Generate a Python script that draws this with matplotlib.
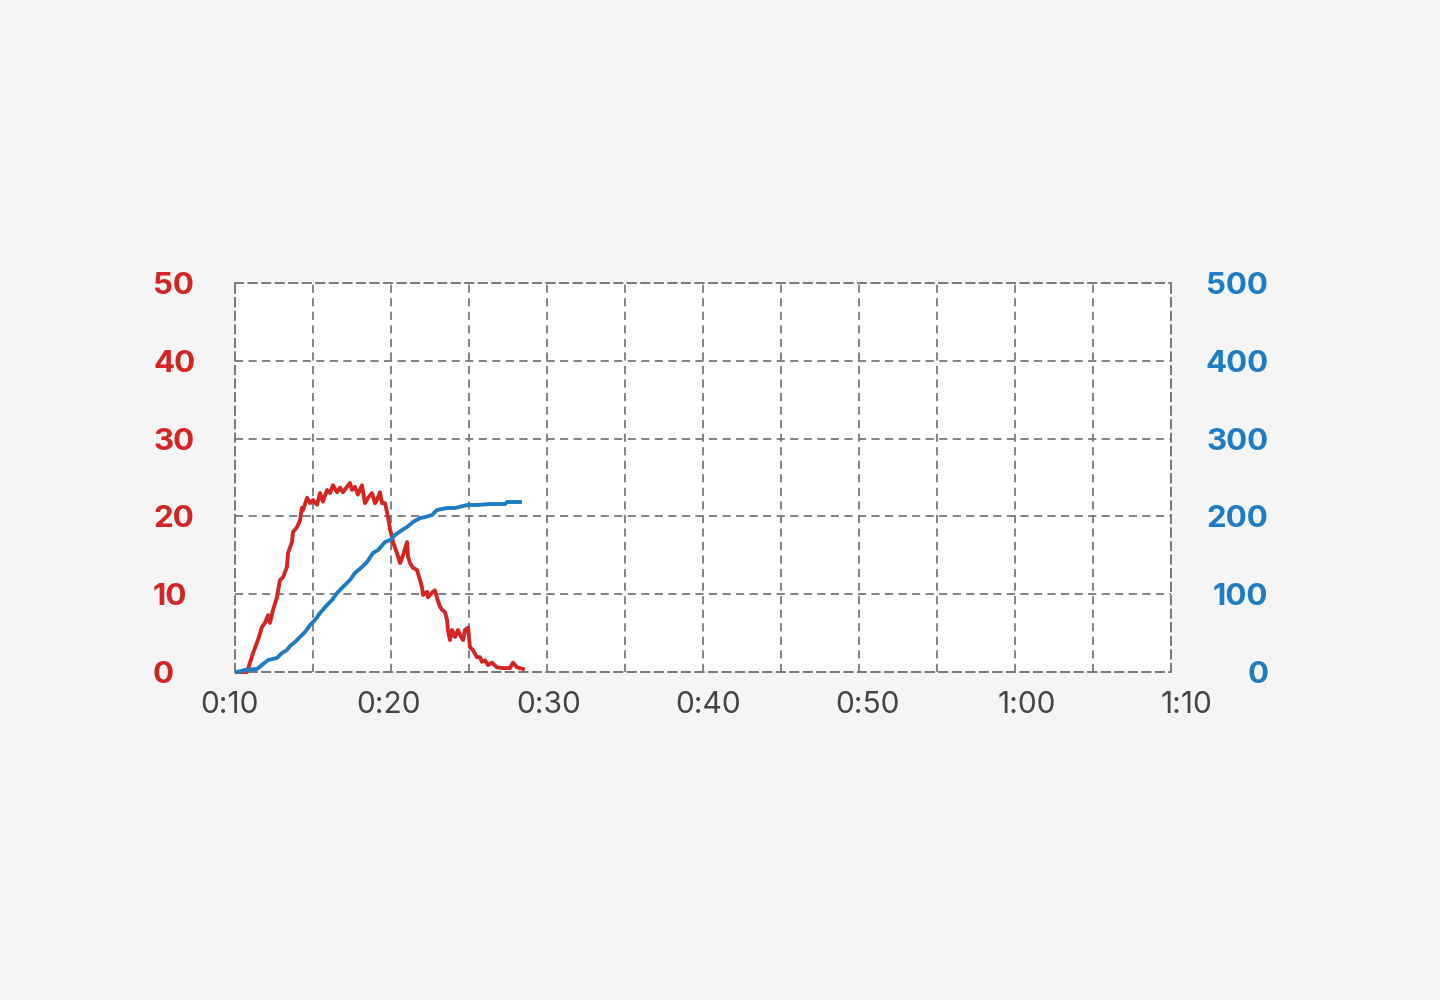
import matplotlib
matplotlib.use("Agg")
import matplotlib.pyplot as plt
from matplotlib import transforms

plt.rcParams['font.family'] = ['Inter', 'DejaVu Sans']

# time in minutes, red series (left axis 0-50)
red_t = [10.13, 10.77, 10.96, 11.15, 11.47, 11.73, 11.92, 12.12, 12.24, 12.44, 12.69, 12.88,
         13.08, 13.33, 13.40, 13.65, 13.72, 13.97, 14.17, 14.29, 14.36, 14.62, 14.81, 15.00,
         15.26, 15.45, 15.64, 15.90, 16.09, 16.28, 16.54, 16.73, 16.92, 17.18, 17.37, 17.50,
         17.69, 17.88, 18.14, 18.33, 18.53, 18.78, 18.97, 19.10, 19.29, 19.42, 19.62, 19.81,
         19.94, 20.06, 20.13, 20.38, 20.58, 20.77, 21.03, 21.09, 21.22, 21.41, 21.67, 21.86,
         21.99, 22.05, 22.31, 22.37, 22.63, 22.82, 22.95, 23.14, 23.27, 23.46, 23.59, 23.65,
         23.78, 23.91, 24.10, 24.29, 24.42, 24.62, 24.74, 24.94, 25.06, 25.26, 25.51, 25.71,
         25.83, 26.03, 26.22, 26.47, 26.79, 27.18, 27.63, 27.82, 28.08, 28.46]
red_v = [0.0, 0.0, 1.2, 2.4, 4.1, 5.8, 6.3, 7.3, 6.3, 8.0, 9.6, 11.8,
         12.2, 13.5, 15.3, 16.7, 18.0, 18.6, 19.5, 21.1, 20.8, 22.4, 21.7, 22.1,
         21.5, 23.0, 21.9, 23.4, 23.0, 24.0, 23.1, 23.7, 23.1, 23.8, 24.3, 23.4,
         23.8, 22.8, 24.0, 21.7, 22.4, 23.0, 21.7, 22.1, 23.1, 21.7, 21.7, 19.9,
         18.3, 17.4, 16.7, 15.3, 14.0, 15.0, 16.7, 14.8, 14.0, 13.4, 13.1, 11.8,
         10.9, 9.9, 10.3, 9.6, 10.2, 10.5, 9.5, 8.4, 8.0, 7.7, 6.7, 5.4,
         4.1, 5.4, 4.5, 5.4, 4.8, 4.1, 5.4, 5.7, 3.2, 2.8, 1.9, 1.9,
         1.3, 1.5, 0.9, 1.2, 0.6, 0.5, 0.5, 1.2, 0.6, 0.4]

# time in minutes, blue series (right axis 0-500)
blue_t = [10.13, 10.64, 11.41, 11.73, 12.12, 12.69, 13.01, 13.33, 13.53, 13.85, 14.17, 14.49,
          14.81, 15.13, 15.45, 15.90, 16.22, 16.54, 16.92, 17.37, 17.69, 18.14, 18.46, 18.85,
          19.17, 19.62, 19.94, 20.26, 20.71, 21.03, 21.41, 21.86, 22.18, 22.63, 22.95, 23.59,
          24.10, 24.62, 24.94, 25.51, 26.35, 27.31, 27.44, 28.27]
blue_v = [0, 2.6, 3.9, 9.0, 15.4, 18.0, 24.4, 28.3, 33.4, 38.6, 45.0, 51.4,
          60.4, 66.8, 75.8, 86.1, 92.5, 101.5, 109.3, 118.3, 127.2, 135.0, 141.4, 153.0,
          156.8, 167.1, 169.7, 176.1, 182.5, 186.4, 192.8, 197.9, 199.0, 201.8, 208.2, 210.8,
          210.8, 213.4, 214.7, 214.7, 215.9, 215.9, 218.5, 218.5]

x_labels = ['0:10', '0:20', '0:30', '0:40', '0:50', '1:00', '1:10']
left_ticks = [0, 10, 20, 30, 40, 50]
right_ticks = [0, 100, 200, 300, 400, 500]

RED = '#d42424'
BLUE = '#1f7cc2'
GRID = '#7a7a7a'

fig = plt.figure(figsize=(14.4, 10), dpi=100, facecolor='#f5f5f5')
ax = fig.add_axes([235/1440, 1-672/1000, 936/1440, 389/1000])
ax.set_facecolor('white')
ax2 = ax.twinx()

dash = (0, (4.5, 3))
ax.set_xlim(10, 70)
ax.set_ylim(0, 50)
ax2.set_ylim(0, 500)
ax.set_xticks(range(10, 71, 5))
ax.set_yticks(left_ticks)
ax2.set_yticks(right_ticks)
ax.grid(True, color=GRID, linestyle=dash, linewidth=1.3)
ax.set_axisbelow(True)
for a in (ax, ax2):
    for s in a.spines.values():
        s.set_linestyle(dash)
        s.set_color(GRID)
        s.set_linewidth(1.3)

ax.plot(red_t, red_v, color=RED, linewidth=2.8, zorder=3, clip_on=False)
ax2.plot(blue_t, blue_v, color=BLUE, linewidth=2.8, zorder=3, clip_on=False)

ax.tick_params(axis='x', length=0, labelbottom=False)
ax.tick_params(axis='y', length=0, pad=59, labelcolor=RED, labelsize=22.5)
for lab in ax.get_yticklabels():
    lab.set_fontweight('bold')
    lab.set_horizontalalignment('left')
ax2.tick_params(axis='y', length=0, pad=70, labelcolor=BLUE, labelsize=22.5)
for lab in ax2.get_yticklabels():
    lab.set_fontweight('bold')
    lab.set_horizontalalignment('right')

trans = transforms.blended_transform_factory(ax.transAxes, ax.transAxes)
for i, lab in enumerate(x_labels):
    ax.text(-0.0064 + i * 0.1705, -0.1054, lab, transform=trans, ha='center', va='baseline',
            fontsize=21.5, color='#444444')

fig.savefig('out.png', dpi=100, facecolor=fig.get_facecolor())
